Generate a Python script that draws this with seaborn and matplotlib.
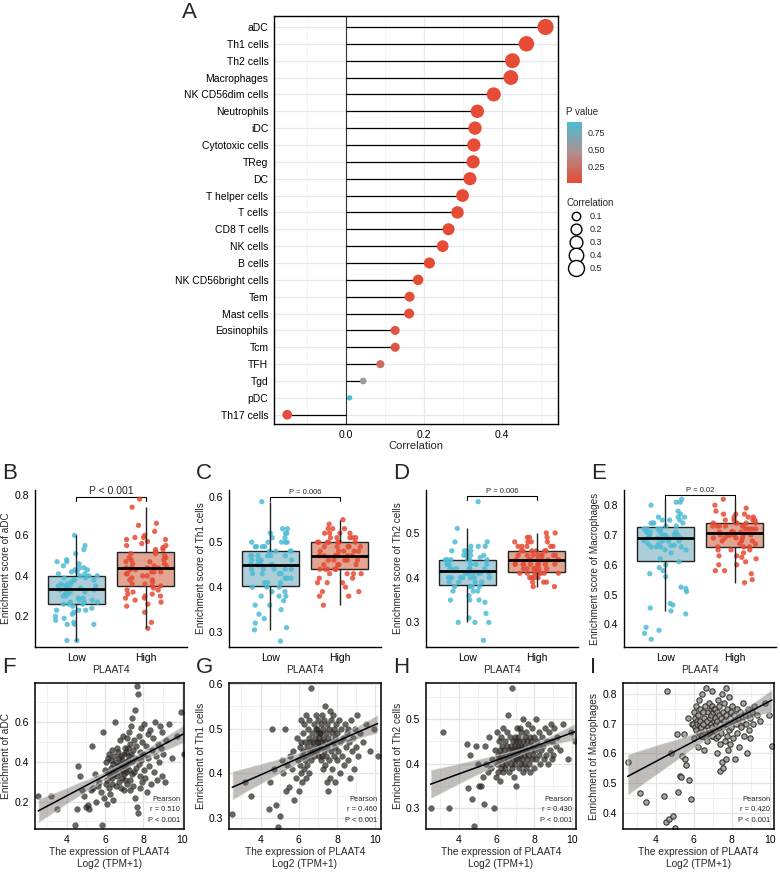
import numpy as np
import pandas as pd
import matplotlib
matplotlib.use('Agg')
import matplotlib.pyplot as plt
import seaborn as sns
from matplotlib.colors import LinearSegmentedColormap, Normalize
from matplotlib.lines import Line2D
from matplotlib.ticker import MultipleLocator

# ---- A: correlation of PLAAT4 with immune infiltration ----
cells = ["aDC", "Th1 cells", "Th2 cells", "Macrophages", "NK CD56dim cells",
         "Neutrophils", "iDC", "Cytotoxic cells", "TReg", "DC", "T helper cells",
         "T cells", "CD8 T cells", "NK cells", "B cells", "NK CD56bright cells",
         "Tem", "Mast cells", "Eosinophils", "Tcm", "TFH", "Tgd", "pDC", "Th17 cells"]
corr = [0.512, 0.463, 0.427, 0.423, 0.379, 0.337, 0.331, 0.328, 0.326, 0.318,
        0.299, 0.286, 0.263, 0.248, 0.214, 0.185, 0.163, 0.162, 0.126, 0.126,
        0.088, 0.044, 0.009, -0.151]
pval = [0.000, 0.000, 0.000, 0.000, 0.000, 0.000, 0.000, 0.000, 0.000, 0.000,
        0.000, 0.000, 0.000, 0.001, 0.003, 0.008, 0.02, 0.02, 0.07, 0.07,
        0.21, 0.52, 0.90, 0.025]

# ---- B-I: per-sample PLAAT4 expression and enrichment scores ----
plaat4_expr = [
    2.52, 3.18, 3.48, 4.45, 4.52, 4.58, 4.71, 4.80, 4.92, 5.02,
    5.10, 5.18, 5.26, 5.33, 5.40, 5.47, 5.55, 5.62, 5.70, 5.77,
    5.84, 5.90, 5.96, 6.01, 6.04, 6.06, 6.09, 6.11, 6.14, 6.16,
    6.19, 6.21, 6.24, 6.26, 6.29, 6.31, 6.34, 6.36, 6.39, 6.41,
    6.44, 6.46, 6.49, 6.51, 6.54, 6.56, 6.59, 6.61, 6.64, 6.66,
    6.69, 6.71, 6.74, 6.76, 6.79, 6.81, 6.84, 6.86, 6.89, 6.91,
    6.93, 6.95, 6.97, 6.98, 6.99, 7.01, 7.03, 7.05, 7.07, 7.09,
    7.11, 7.13, 7.15, 7.17, 7.19, 7.21, 7.23, 7.25, 7.27, 7.29,
    7.31, 7.33, 7.35, 7.37, 7.39, 7.41, 7.43, 7.45, 7.47, 7.49,
    7.52, 7.54, 7.56, 7.58, 7.61, 7.63, 7.65, 7.68, 7.70, 7.72,
    7.75, 7.77, 7.80, 7.82, 7.85, 7.87, 7.90, 7.92, 7.95, 7.98,
    8.02, 8.06, 8.10, 8.14, 8.18, 8.22, 8.26, 8.30, 8.35, 8.40,
    8.45, 8.50, 8.55, 8.60, 8.65, 8.70, 8.75, 8.80, 8.85, 8.90,
    8.95, 8.99, 9.05, 9.12, 9.20, 9.35, 9.50, 9.75, 9.95, 10.12]

adc_score = [
    0.23, 0.23, 0.16, 0.08, 0.16, 0.38, 0.33, 0.26, 0.23, 0.17,
    0.18, 0.16, 0.26, 0.48, 0.27, 0.34, 0.20, 0.28, 0.30, 0.25,
    0.08, 0.55, 0.22, 0.36, 0.29, 0.40, 0.31, 0.19, 0.42, 0.35,
    0.27, 0.44, 0.33, 0.24, 0.37, 0.41, 0.29, 0.46, 0.32, 0.39,
    0.21, 0.43, 0.34, 0.36, 0.60, 0.28, 0.40, 0.47, 0.33, 0.38,
    0.45, 0.30, 0.42, 0.35, 0.51, 0.27, 0.39, 0.43, 0.32, 0.41,
    0.36, 0.53, 0.26, 0.44, 0.34, 0.38, 0.47, 0.31, 0.40, 0.35,
    0.45, 0.38, 0.52, 0.29, 0.47, 0.41, 0.55, 0.36, 0.43, 0.31,
    0.49, 0.26, 0.44, 0.58, 0.34, 0.40, 0.62, 0.28, 0.46, 0.35,
    0.51, 0.22, 0.42, 0.66, 0.37, 0.48, 0.17, 0.78, 0.14, 0.74,
    0.39, 0.53, 0.33, 0.45, 0.27, 0.57, 0.41, 0.30, 0.50, 0.44,
    0.36, 0.59, 0.32, 0.48, 0.25, 0.54, 0.42, 0.38, 0.56, 0.29,
    0.46, 0.52, 0.35, 0.60, 0.43, 0.31, 0.49, 0.40, 0.58, 0.47,
    0.33, 0.55, 0.44, 0.30, 0.51, 0.59, 0.42, 0.53, 0.65, 0.44]

th1_score = [
    0.31, 0.38, 0.35, 0.32, 0.38, 0.50, 0.41, 0.33, 0.28, 0.305,
    0.43, 0.40, 0.50, 0.36, 0.42, 0.37, 0.44, 0.41, 0.45, 0.34,
    0.39, 0.48, 0.43, 0.36, 0.46, 0.42, 0.52, 0.40, 0.47, 0.44,
    0.38, 0.49, 0.45, 0.41, 0.51, 0.43, 0.47, 0.39, 0.53, 0.46,
    0.42, 0.50, 0.44, 0.48, 0.40, 0.52, 0.45, 0.47, 0.43, 0.59,
    0.45, 0.49, 0.46, 0.47, 0.51, 0.44, 0.48, 0.45, 0.53, 0.50,
    0.47, 0.50, 0.45, 0.46, 0.49, 0.47, 0.52, 0.44, 0.48, 0.49,
    0.46, 0.49, 0.43, 0.51, 0.47, 0.44, 0.53, 0.48, 0.41, 0.50,
    0.45, 0.52, 0.47, 0.42, 0.55, 0.49, 0.44, 0.38, 0.51, 0.46,
    0.48, 0.36, 0.50, 0.43, 0.54, 0.47, 0.39, 0.52, 0.45, 0.49,
    0.41, 0.53, 0.47, 0.44, 0.50, 0.46, 0.38, 0.48, 0.51, 0.43,
    0.49, 0.45, 0.52, 0.40, 0.47, 0.50, 0.44, 0.48, 0.42, 0.51,
    0.46, 0.49, 0.43, 0.50, 0.47, 0.39, 0.52, 0.45, 0.48, 0.41,
    0.50, 0.46, 0.53, 0.44, 0.49, 0.47, 0.51, 0.45, 0.50, 0.44]

th2_score = [
    0.30, 0.47, 0.30, 0.445, 0.345, 0.42, 0.32, 0.26, 0.44, 0.40,
    0.35, 0.35, 0.37, 0.31, 0.44, 0.40, 0.38, 0.46, 0.39, 0.41,
    0.30, 0.43, 0.37, 0.47, 0.40, 0.42, 0.38, 0.45, 0.41, 0.36,
    0.43, 0.39, 0.46, 0.42, 0.40, 0.44, 0.38, 0.48, 0.41, 0.43,
    0.39, 0.45, 0.42, 0.40, 0.47, 0.44, 0.41, 0.51, 0.43, 0.38,
    0.46, 0.42, 0.40, 0.44, 0.39, 0.57, 0.43, 0.41, 0.45, 0.37,
    0.42, 0.44, 0.40, 0.46, 0.43, 0.35, 0.45, 0.41, 0.48, 0.42,
    0.44, 0.41, 0.46, 0.39, 0.43, 0.45, 0.42, 0.48, 0.40, 0.44,
    0.47, 0.41, 0.43, 0.50, 0.38, 0.45, 0.42, 0.44, 0.40, 0.46,
    0.43, 0.39, 0.47, 0.41, 0.45, 0.43, 0.49, 0.42, 0.44, 0.40,
    0.46, 0.38, 0.43, 0.45, 0.41, 0.48, 0.44, 0.42, 0.46, 0.39,
    0.43, 0.50, 0.41, 0.45, 0.44, 0.42, 0.47, 0.40, 0.43, 0.46,
    0.44, 0.41, 0.48, 0.42, 0.45, 0.40, 0.47, 0.43, 0.49, 0.41,
    0.45, 0.42, 0.48, 0.44, 0.46, 0.43, 0.49, 0.41, 0.47, 0.45]

macro_score = [
    0.57, 0.465, 0.435, 0.455, 0.37, 0.81, 0.38, 0.60, 0.39, 0.35,
    0.665, 0.47, 0.525, 0.52, 0.59, 0.665, 0.58, 0.56, 0.72, 0.51,
    0.445, 0.70, 0.70, 0.65, 0.74, 0.69, 0.72, 0.68, 0.76, 0.71,
    0.70, 0.62, 0.73, 0.67, 0.78, 0.70, 0.71, 0.75, 0.66, 0.69,
    0.80, 0.66, 0.74, 0.70, 0.61, 0.72, 0.68, 0.76, 0.65, 0.82,
    0.71, 0.64, 0.74, 0.69, 0.77, 0.68, 0.72, 0.67, 0.75, 0.70,
    0.73, 0.66, 0.76, 0.69, 0.81, 0.66, 0.74, 0.71, 0.68, 0.75,
    0.72, 0.68, 0.75, 0.65, 0.70, 0.74, 0.60, 0.71, 0.78, 0.66,
    0.73, 0.69, 0.76, 0.63, 0.70, 0.54, 0.72, 0.67, 0.80, 0.57,
    0.74, 0.69, 0.55, 0.71, 0.77, 0.64, 0.70, 0.82, 0.58, 0.73,
    0.66, 0.75, 0.61, 0.70, 0.79, 0.68, 0.72, 0.63, 0.74, 0.69,
    0.76, 0.65, 0.71, 0.73, 0.58, 0.70, 0.75, 0.67, 0.72, 0.62,
    0.74, 0.69, 0.71, 0.77, 0.66, 0.73, 0.70, 0.60, 0.75, 0.68,
    0.72, 0.65, 0.74, 0.70, 0.76, 0.73, 0.71, 0.77, 0.73, 0.625]

sns.set_style('white')
plt.rcParams['font.family'] = ['Liberation Sans', 'DejaVu Sans']
plt.rcParams['axes.edgecolor'] = 'black'
np.random.seed(3)

W, H = 780, 875
fig = plt.figure(figsize=(7.8, 8.75), dpi=100)


def px_rect(l, t, r, b):
    return [l / W, 1 - b / H, (r - l) / W, (b - t) / H]


def letter(x, y, s):
    fig.text(x / W, 1 - y / H, s, fontsize=16, va='top', ha='left')


# ---------------- panel A ----------------
df_a = pd.DataFrame({'cell': cells, 'corr': corr, 'pval': pval})
df_a['pos'] = np.arange(len(df_a))
df_a['abs_corr'] = df_a['corr'].abs()

pcmap = LinearSegmentedColormap.from_list('pv', ['#E64B35', '#B08F91', '#4DBBD5'])
pnorm = Normalize(0, 0.9)
size_rng = (15, 135)
size_norm = (0.009, 0.512)

ax = fig.add_axes(px_rect(274, 16, 558, 424))
ax.axvline(0, color='#333333', lw=0.8, zorder=1)
ax.hlines(df_a['pos'], 0, df_a['corr'], color='black', lw=0.9, zorder=2)
sns.scatterplot(data=df_a, x='corr', y='pos', hue='pval', palette=pcmap,
                hue_norm=pnorm, size='abs_corr', sizes=size_rng,
                size_norm=size_norm, edgecolor='none', legend=False,
                ax=ax, zorder=3)
ax.set_ylim(23.55, -0.65)
ax.set_yticks(df_a['pos'], df_a['cell'])
ax.set_xlim(-0.185, 0.544)
ax.set_xticks([0, 0.2, 0.4], ['0.0', '0.2', '0.4'])
ax.xaxis.set_minor_locator(MultipleLocator(0.1))
ax.grid(which='major', color='#E8E8E8', lw=0.9)
ax.grid(which='minor', axis='x', color='#F1F1F1', lw=0.6)
ax.set_axisbelow(True)
ax.set_xlabel('Correlation', fontsize=8, labelpad=1)
ax.set_ylabel('')
ax.tick_params(labelsize=7.5, length=2.5, width=0.7, colors='black', pad=1.5)
ax.tick_params(which='minor', length=0)
for s in ax.spines.values():
    s.set_linewidth(1)
letter(182, 2, 'A')

cax = fig.add_axes(px_rect(567, 122, 582, 183))
cb = fig.colorbar(plt.cm.ScalarMappable(norm=pnorm, cmap=pcmap), cax=cax)
cb.outline.set_visible(False)
cb.set_ticks([0.25, 0.5, 0.75], labels=['0.25', '0.50', '0.75'])
cax.tick_params(labelsize=6.5, length=3, color='white', direction='in', width=0.8, pad=4)
fig.text(566 / W, 1 - 117 / H, 'P value', fontsize=7, va='bottom')

leg_vals = [0.1, 0.2, 0.3, 0.4, 0.5]
handles = [Line2D([], [], ls='', marker='o', mfc='white', mec='black', mew=1,
                  markersize=np.sqrt(size_rng[0] + (v - size_norm[0]) / (size_norm[1] - size_norm[0])
                                     * (size_rng[1] - size_rng[0])))
           for v in leg_vals]
ax.legend(handles, [str(v) for v in leg_vals], title='Correlation', loc='upper left',
          bbox_to_anchor=(563 / W, 1 - 194 / H), bbox_transform=fig.transFigure,
          frameon=False, fontsize=6.5, title_fontsize=7, labelspacing=0.45,
          handletextpad=0.6, borderaxespad=0, alignment='left')

# ---------------- panels B-E: boxplots ----------------
df = pd.DataFrame({'expr': plaat4_expr, 'aDC': adc_score, 'Th1 cells': th1_score,
                   'Th2 cells': th2_score, 'Macrophages': macro_score})
df['group'] = np.where(df['expr'] < df['expr'].median(), 'Low', 'High')
order = ['Low', 'High']
box_fill = {'Low': '#A3D2E0', 'High': '#EE9E84'}
dot_col = {'Low': '#4DBBD5', 'High': '#E64B35'}

box_panels = [
    ('aDC', 'B', 35, (0.048, 0.825), [0.2, 0.4, 0.6, 0.8], 'P < 0.001', 0.79, 7.5),
    ('Th1 cells', 'C', 229, (0.267, 0.616), [0.3, 0.4, 0.5, 0.6], 'P = 0.006', 0.60, 5.5),
    ('Th2 cells', 'D', 426, (0.245, 0.596), [0.3, 0.4, 0.5], 'P = 0.006', 0.583, 5.5),
    ('Macrophages', 'E', 624, (0.324, 0.851), [0.4, 0.5, 0.6, 0.7, 0.8], 'P = 0.02', 0.835, 5.5),
]
for col, lab, left, ylim, yt, ptxt, ybr, pfs in box_panels:
    ax = fig.add_axes(px_rect(left, 490, left + 152, 647))
    sns.boxplot(data=df, x='group', y=col, order=order, hue='group', palette=box_fill,
                width=0.82, showfliers=False, showcaps=False, linewidth=1,
                linecolor='#222222', legend=False, ax=ax,
                medianprops={'color': 'black', 'linewidth': 2})
    sns.stripplot(data=df, x='group', y=col, order=order, hue='group', palette=dot_col,
                  jitter=0.32, size=3.8, alpha=0.85, linewidth=0, legend=False, ax=ax)
    for ln in ax.lines:
        ln.set_zorder(5)
    ax.set_xlim(-0.6, 1.6)
    ax.set_ylim(*ylim)
    ax.set_yticks(yt, [f'{v:.1f}' for v in yt])
    d = 4 * (ylim[1] - ylim[0]) / 157
    ax.plot([0, 0, 1, 1], [ybr - d, ybr, ybr, ybr - d], color='black', lw=0.8)
    ax.text(0.5, ybr + d * 0.3, ptxt, ha='center', va='bottom', fontsize=pfs)
    ax.set_xlabel('PLAAT4', fontsize=7.5, labelpad=1)
    ax.set_ylabel(f'Enrichment score of {col}', fontsize=7.2, labelpad=2)
    ax.tick_params(labelsize=7.5, length=3, width=0.8, colors='black', pad=1.5)
    ax.spines['top'].set_visible(False)
    ax.spines['right'].set_visible(False)
    ax.spines['left'].set_linewidth(1)
    ax.spines['bottom'].set_linewidth(1)
    letter(left - 33, 463, lab)

# ---------------- panels F-I: scatter + regression ----------------
sc_panels = [
    ('aDC', 'F', 35, 184, (2.35, 10.12), (0.062, 0.795), [0.2, 0.4, 0.6], 0.1, 'r = 0.510'),
    ('Th1 cells', 'G', 229, 381, (2.35, 10.3), (0.276, 0.602), [0.3, 0.4, 0.5, 0.6], 0.05, 'r = 0.460'),
    ('Th2 cells', 'H', 426, 576, (2.28, 10.19), (0.253, 0.581), [0.3, 0.4, 0.5], 0.05, 'r = 0.430'),
    ('Macrophages', 'I', 623, 774, (2.28, 10.23), (0.345, 0.837), [0.4, 0.5, 0.6, 0.7, 0.8], 0.05, 'r = 0.420'),
]
for col, lab, left, right, xlim, ylim, yt, ymin, rtxt in sc_panels:
    ax = fig.add_axes(px_rect(left, 683, right, 829))
    if col == 'Macrophages':
        sns.scatterplot(data=df, x='expr', y=col, s=15, color='#A09A96', edgecolor='#2A2A2A',
                        linewidth=0.8, alpha=0.9, ax=ax)
    else:
        sns.scatterplot(data=df, x='expr', y=col, s=17, color='#2E2926', edgecolor='#1E1E1E',
                        linewidth=0.3, alpha=0.72, ax=ax)
    sns.regplot(data=df, x='expr', y=col, scatter=False, ci=95, seed=1, ax=ax,
                line_kws={'color': 'black', 'lw': 1.1})
    band = ax.collections[-1]
    band.set_facecolor('#766E68')
    band.set_alpha(0.45)
    ax.set_xlim(*xlim)
    ax.set_ylim(*ylim)
    ax.set_xticks([4, 6, 8, 10])
    ax.set_yticks(yt, [f'{v:.1f}' for v in yt])
    ax.xaxis.set_minor_locator(MultipleLocator(1))
    ax.yaxis.set_minor_locator(MultipleLocator(ymin))
    ax.grid(which='major', color='#E3E3E3', lw=0.9)
    ax.grid(which='minor', color='#EFEFEF', lw=0.6)
    ax.set_axisbelow(True)
    ax.text(0.975, 0.035, f'Pearson\n{rtxt}\nP < 0.001', transform=ax.transAxes,
            ha='right', va='bottom', fontsize=5.4, linespacing=1.7)
    ax.set_xlabel('The expression of PLAAT4\nLog2 (TPM+1)', fontsize=7.3, labelpad=1,
                  linespacing=1.35)
    ax.set_ylabel(f'Enrichment of {col}', fontsize=7.3, labelpad=2)
    ax.tick_params(labelsize=7.5, length=3, width=0.8, colors='black', pad=1.5)
    ax.tick_params(which='minor', length=0)
    for s in ax.spines.values():
        s.set_linewidth(1.1)
    letter(left - 33, 657, lab)

fig.savefig('out.png', dpi=100)
